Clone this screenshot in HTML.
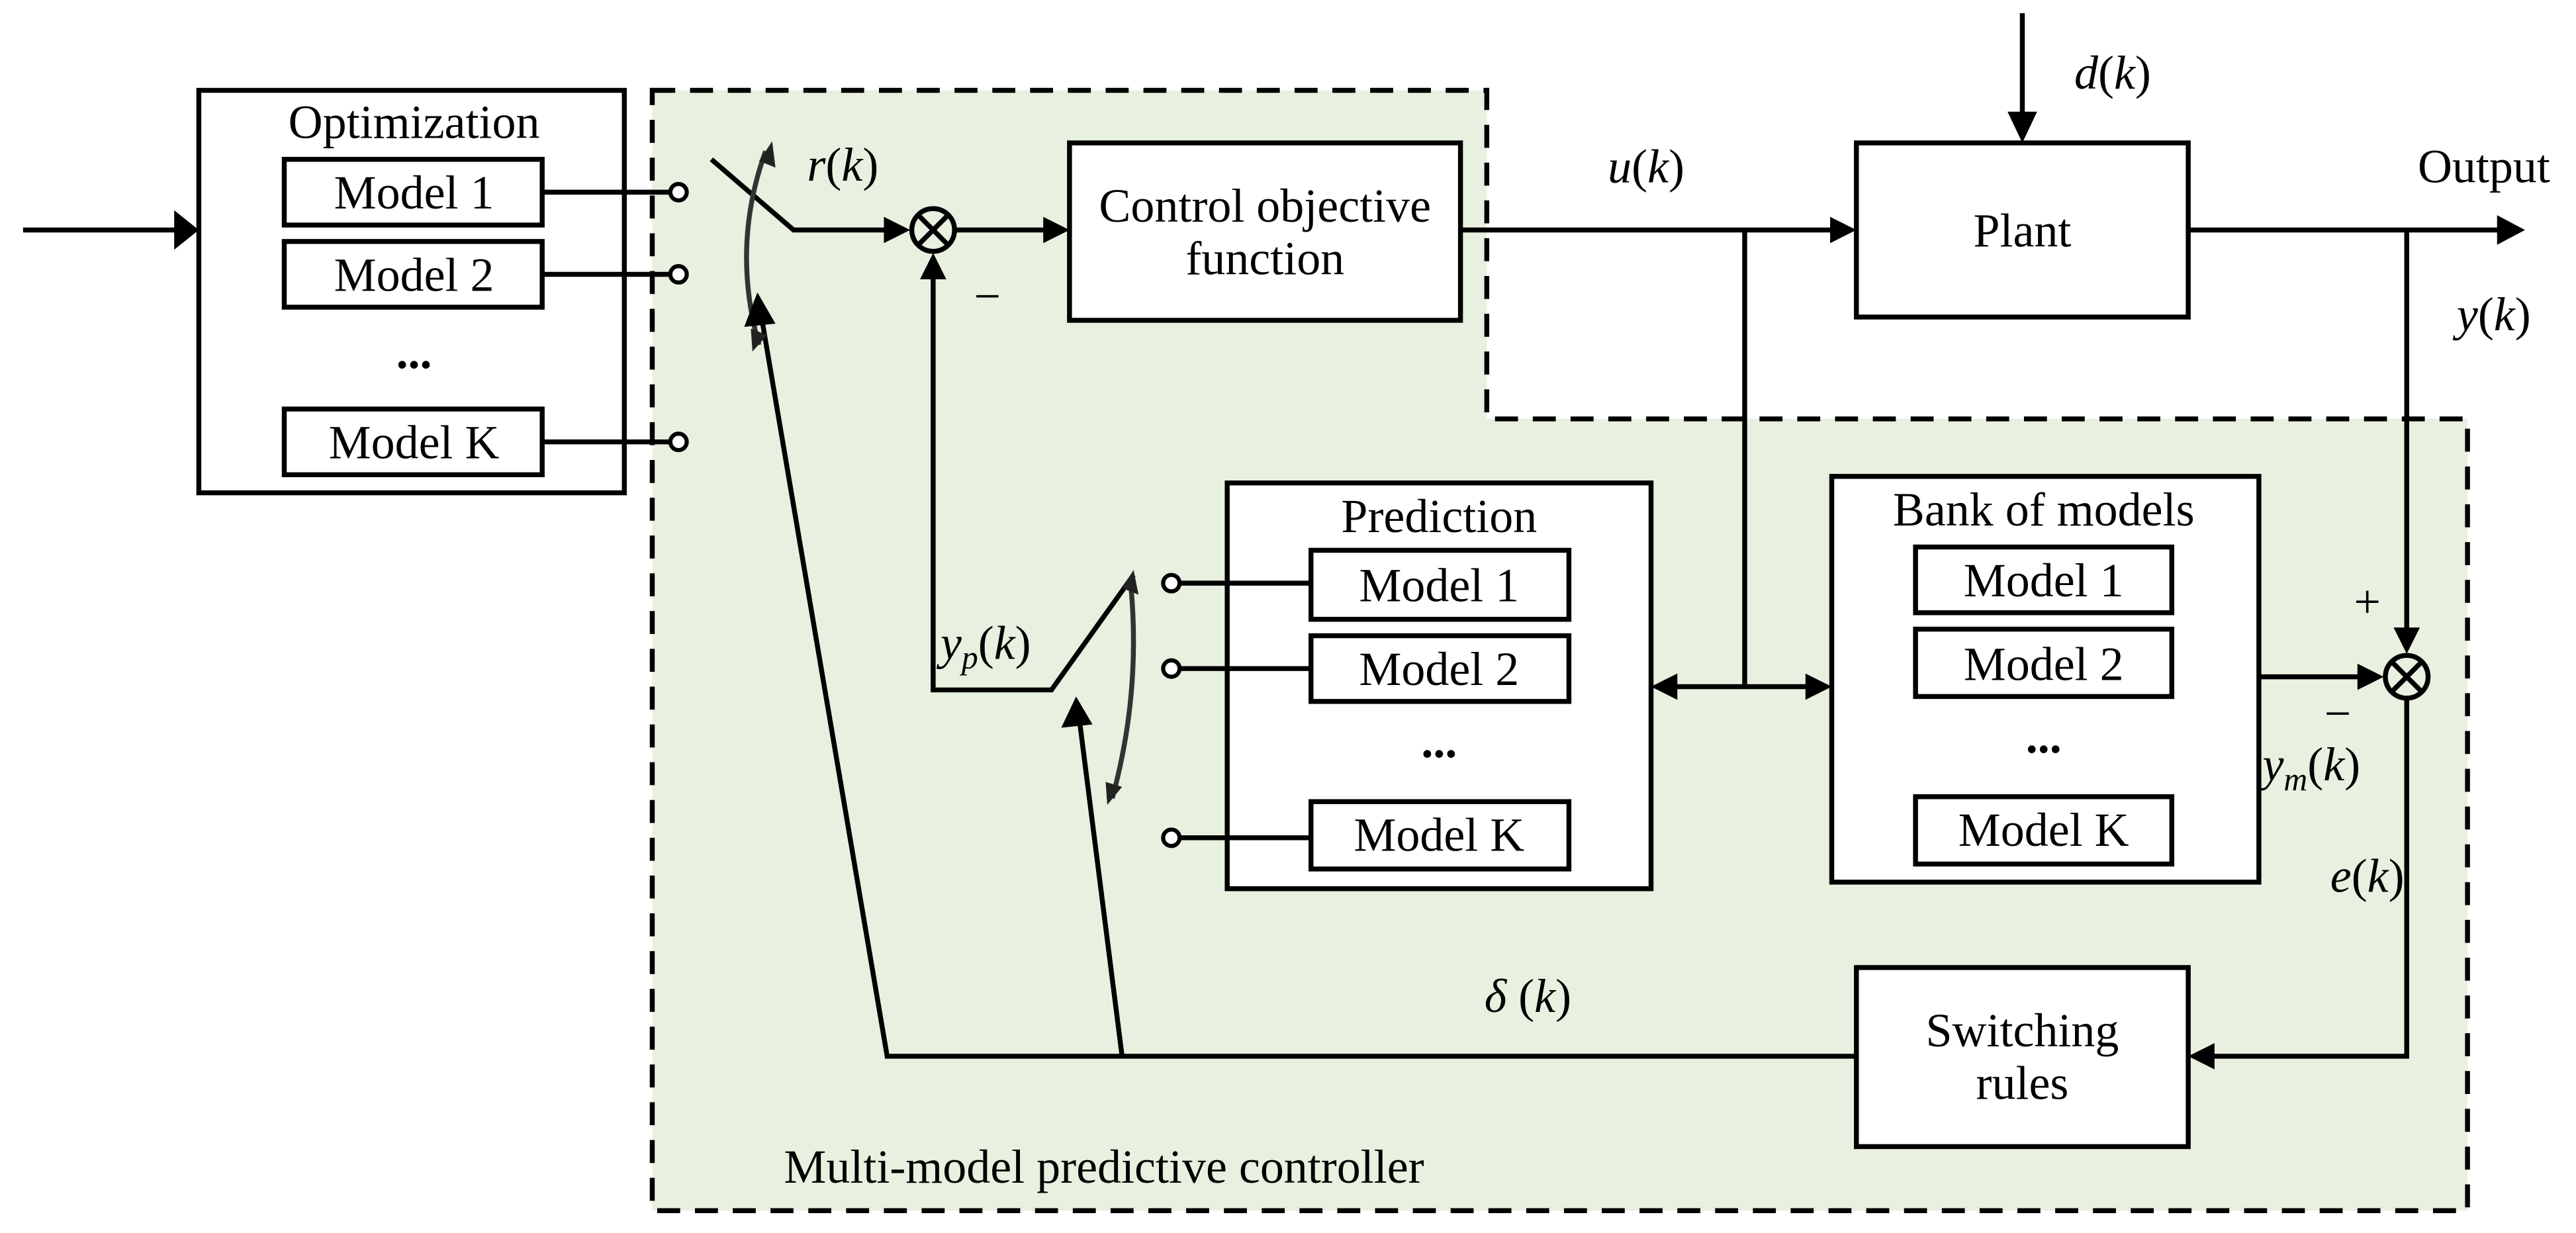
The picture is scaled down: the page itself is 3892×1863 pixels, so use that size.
<!DOCTYPE html>
<html><head><meta charset="utf-8"><style>
html,body{margin:0;padding:0;background:#fff;}
svg{display:block;}
</style></head><body>
<svg width="3892" height="1863" viewBox="0 0 1568 750.6" xmlns="http://www.w3.org/2000/svg" font-family="'Liberation Serif', 'Times New Roman', serif">
<polygon points="397,55 905,55 905,255 1502,255 1502,737 397,737" fill="#e8f0df" stroke="#000" stroke-width="3" stroke-dasharray="14,9"/>
<g fill="#fff" stroke="#000" stroke-width="3">
<rect x="121" y="55" width="259" height="245"/>
<rect x="173" y="97" width="157" height="40"/>
<rect x="173" y="147" width="157" height="40"/>
<rect x="173" y="249" width="157" height="40"/>
<rect x="651" y="87" width="238" height="108"/>
<rect x="1130" y="87" width="202" height="106"/>
<rect x="747" y="294" width="258" height="247"/>
<rect x="798" y="335" width="157" height="42"/>
<rect x="798" y="387" width="157" height="40"/>
<rect x="798" y="488" width="157" height="41"/>
<rect x="1115" y="290" width="260" height="247"/>
<rect x="1166" y="333" width="156" height="40"/>
<rect x="1166" y="383" width="156" height="41"/>
<rect x="1166" y="485" width="156" height="41"/>
<rect x="1130" y="589" width="202" height="109"/>
</g>
<g stroke="#000" stroke-width="3" fill="none">
<line x1="14" y1="140" x2="108" y2="140"/>
<line x1="330" y1="117" x2="408" y2="117"/>
<line x1="330" y1="167" x2="408" y2="167"/>
<line x1="330" y1="269" x2="408" y2="269"/>
<polyline points="433,97 483,140 542,140"/>
<line x1="582" y1="140" x2="638" y2="140"/>
<polyline points="690,350 640,420 568,420 568,168"/>
<line x1="889" y1="140" x2="1117" y2="140"/>
<line x1="1062" y1="140" x2="1062" y2="418"/>
<line x1="1018" y1="418" x2="1100" y2="418"/>
<line x1="1231" y1="8" x2="1231" y2="72"/>
<line x1="1332" y1="140" x2="1522" y2="140"/>
<line x1="1465" y1="140" x2="1465" y2="384"/>
<line x1="1375" y1="412" x2="1437" y2="412"/>
<polyline points="1465,426 1465,643 1346,643"/>
<polyline points="1130,643 540,643 463,190"/>
<line x1="683" y1="643" x2="657" y2="438"/>
<line x1="718" y1="355" x2="798" y2="355"/>
<line x1="718" y1="407" x2="798" y2="407"/>
<line x1="718" y1="510" x2="798" y2="510"/>
<circle cx="568" cy="140" r="13"/>
<line x1="559" y1="131" x2="577" y2="149"/><line x1="577" y1="131" x2="559" y2="149"/>
<circle cx="1465" cy="412" r="13"/>
<line x1="1456" y1="403" x2="1474" y2="421"/><line x1="1474" y1="403" x2="1456" y2="421"/>
</g>
<g stroke="#333" stroke-width="3" fill="none">
<path d="M466,92 Q445,150 462,210"/>
<path d="M688,353 Q695,420 677,486"/>
</g>
<g fill="#222">
<polygon points="470,86 472,102 462,98"/>
<polygon points="458,214 457,200 467,204"/>
<polygon points="690,347 693,362 683,358"/>
<polygon points="674,490 673,476 683,479"/>
</g>
<g fill="#fff" stroke="#000" stroke-width="2.5">
<circle cx="413" cy="117" r="5"/><circle cx="413" cy="167" r="5"/><circle cx="413" cy="269" r="5"/>
<circle cx="713" cy="355" r="5"/><circle cx="713" cy="407" r="5"/><circle cx="713" cy="510" r="5"/>
</g>
<g fill="#000">
<polygon points="121,140 106,128 106,152"/>
<polygon points="554,140 538,132 538,148"/>
<polygon points="651,140 635,132 635,148"/>
<polygon points="568,154 560,170 576,170"/>
<polygon points="1130,140 1114,132 1114,148"/>
<polygon points="1231,87 1222,68 1240,68"/>
<polygon points="1537,140 1520,131 1520,149"/>
<polygon points="1465,398 1457,382 1473,382"/>
<polygon points="1451,412 1435,404 1435,420"/>
<polygon points="1005,418 1021,410 1021,426"/>
<polygon points="1115,418 1099,410 1099,426"/>
<polygon points="1332,643 1348,635 1348,651"/>
<polygon points="461,178 453,199 472,197"/>
<polygon points="655,424 646,443 665,441"/>
</g>
<g font-size="29" text-anchor="middle" fill="#000">
<text x="252" y="84">Optimization</text>
<text x="252" y="127">Model 1</text>
<text x="252" y="177">Model 2</text>
<text x="252" y="224" font-weight="bold">...</text>
<text x="252" y="279">Model K</text>
<text x="770" y="135">Control objective</text>
<text x="770" y="167">function</text>
<text x="1231" y="150">Plant</text>
<text x="876" y="324">Prediction</text>
<text x="876" y="366">Model 1</text>
<text x="876" y="417">Model 2</text>
<text x="876" y="461" font-weight="bold">...</text>
<text x="876" y="518">Model K</text>
<text x="1244" y="320">Bank of models</text>
<text x="1244" y="363">Model 1</text>
<text x="1244" y="414">Model 2</text>
<text x="1244" y="458" font-weight="bold">...</text>
<text x="1244" y="515">Model K</text>
<text x="1231" y="637">Switching</text>
<text x="1231" y="669">rules</text>
<text x="1512" y="111">Output</text>
<text x="672" y="720">Multi-model predictive controller</text>
<text x="601" y="190">−</text>
<text x="1441" y="376">+</text>
<text x="1423" y="444">−</text>
</g>
<g font-size="29" text-anchor="middle" fill="#000">
<text x="513" y="110"><tspan font-style="italic">r</tspan>(<tspan font-style="italic">k</tspan>)</text>
<text x="1002" y="111"><tspan font-style="italic">u</tspan>(<tspan font-style="italic">k</tspan>)</text>
<text x="1286" y="54"><tspan font-style="italic">d</tspan>(<tspan font-style="italic">k</tspan>)</text>
<text x="1518" y="201"><tspan font-style="italic">y</tspan>(<tspan font-style="italic">k</tspan>)</text>
<text x="600" y="401"><tspan font-style="italic">y</tspan><tspan font-style="italic" font-size="20" dy="6">p</tspan><tspan dy="-6">(</tspan><tspan font-style="italic">k</tspan>)</text>
<text x="1407" y="475"><tspan font-style="italic">y</tspan><tspan font-style="italic" font-size="20" dy="6">m</tspan><tspan dy="-6">(</tspan><tspan font-style="italic">k</tspan>)</text>
<text x="1441" y="543"><tspan font-style="italic">e</tspan>(<tspan font-style="italic">k</tspan>)</text>
<text x="930" y="616"><tspan font-style="italic">δ</tspan> (<tspan font-style="italic">k</tspan>)</text>
</g>
</svg>
</body></html>
